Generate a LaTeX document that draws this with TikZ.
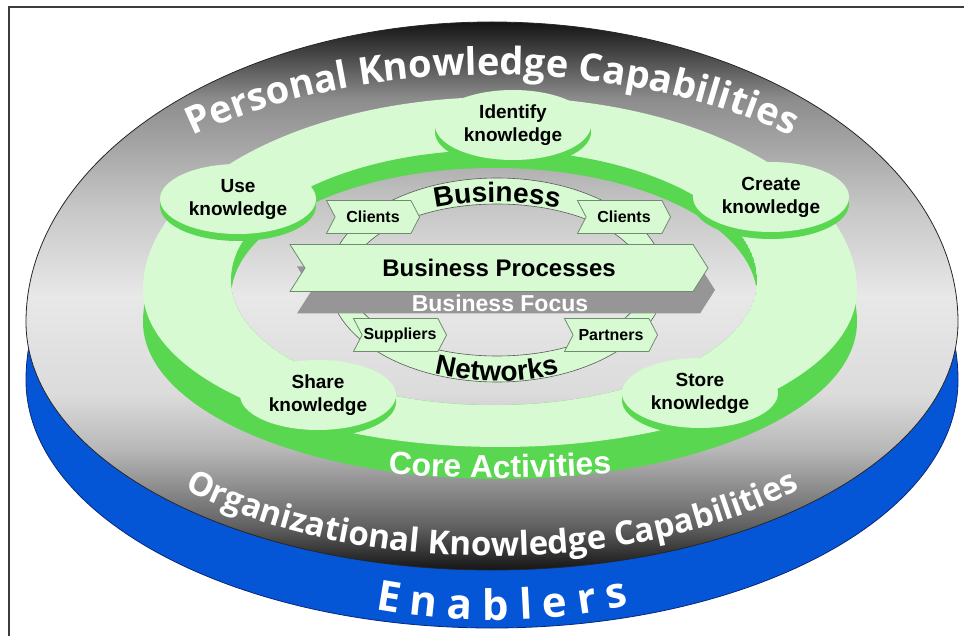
\documentclass[tikz,border=0pt]{standalone}
\usepackage{fontspec}
\newfontfamily\lblfont{Liberation Sans}
\newfontfamily\capfont{Open Sans}
\usetikzlibrary{shapes.geometric,shapes.symbols,shadows,decorations.text,calc}

\pgfdeclareverticalshading{discface}{100bp}{color(0bp)=(black!92); color(25bp)=(black!92); color(29bp)=(black!62); color(36bp)=(black!28); color(41bp)=(black!14); color(50bp)=(black!9); color(58bp)=(black!22); color(68bp)=(black!45); color(75bp)=(black!92); color(100bp)=(black!92)}

\begin{document}
\begin{tikzpicture}[x=1pt,y=-1pt,line cap=rect,
    bubble/.style={ellipse,fill=custcol_d7fad2,inner sep=0pt,minimum width=156pt,minimum height=70pt,align=center,
      font=\lblfont\bfseries\fontsize{19pt}{23pt}\selectfont,general shadow={fill=custcol_5ad750,shadow yshift=-7pt}},
    flag/.style={signal,signal from=west,signal to=east,signal pointer angle=125,draw=custcol_6e8c6e,line width=0.8pt,
      fill=custcol_d7fad2,inner sep=0pt,minimum width=93pt,minimum height=33pt,font=\lblfont\bfseries\fontsize{16pt}{16pt}\selectfont},
    ringtext/.style={decorate,decoration={text along path,text align=center,text color=white,text={#1}}}]
  \def\egg#1#2#3#4#5{(#1-#3,#2) arc[start angle=180,end angle=360,x radius=#3,y radius=#4] arc[start angle=0,end angle=180,x radius=#3,y radius=#5] -- cycle}
  \def\capbig{\capfont\bfseries\fontsize{38pt}{38pt}\selectfont}
  \def\caplow{\capfont\bfseries\fontsize{33pt}{33pt}\selectfont}
  \def\capbase{\capfont\bfseries\fontsize{42pt}{42pt}\selectfont}
  \def\corefont{\lblfont\bfseries\fontsize{32pt}{32pt}\selectfont}
  \def\hubfont{\lblfont\bfseries\fontsize{28pt}{28pt}\selectfont}
  \definecolor{custcol_d7fad2}{RGB}{215,250,210}
  \definecolor{custcol_5ad750}{RGB}{90,215,80}
  \definecolor{custcol_0555d7}{RGB}{5,85,215}
  \definecolor{custcol_0a2878}{RGB}{10,40,120}
  \definecolor{custcol_969696}{RGB}{150,150,150}
  \definecolor{custcol_6e8c6e}{RGB}{110,140,110}
  \definecolor{custcol_3c3c3c}{RGB}{60,60,60}
  \useasboundingbox (0,0) rectangle (964,636);
  \coordinate (disc) at (492,322);
  \coordinate (base) at (492,380);
  \coordinate (ring) at (500,290);
  \coordinate (hub) at (497,280);
  % disc: blue side, then shaded face
  \fill[custcol_0555d7,draw=custcol_0a2878,line width=0.8pt] \egg{492}{380}{466}{300}{248};
  \shade[shading=discface,draw=black!85,line width=0.8pt] \egg{492}{322}{466}{300}{248};
  % core activities ring with its inner wall
  \fill[custcol_5ad750] \egg{500}{322}{357}{193}{157};
  \fill[custcol_d7fad2] \egg{500}{290}{357}{193}{157};
  \begin{scope}
    \clip \egg{494}{280}{263}{130}{125};
    \fill[custcol_5ad750] \egg{494}{280}{263}{130}{125};
    \clip \egg{494}{298}{263}{130}{125};
    \shade[shading=discface] \egg{492}{322}{466}{300}{248};
  \end{scope}
  % lettering on the disc
  \path[ringtext={|\capbig|Personal Knowledge Capabilities}] ($(disc)+(215:455 and 247)$) arc[start angle=215,end angle=325,x radius=455,y radius=247];
  \path[ringtext={|\caplow|Organizational Knowledge Capabilities}] ($(disc)+(145:440 and 234)$) arc[start angle=145,end angle=35,x radius=440,y radius=234];
  \path[decorate,decoration={text along path,text align=fit to path,text color=white,text={|\capbase|Enablers}}] ($(base)+(107:400 and 240)$) arc[start angle=107,end angle=70,x radius=400,y radius=240];
  \path[ringtext={|\corefont|Core Activities}] ($(ring)+(110:500 and 188)$) arc[start angle=110,end angle=70,x radius=500,y radius=188];
  % knowledge activities
  \node[bubble] (identify) at (513,125) {Identify\\knowledge};
  \node[bubble] (use) at (238,199) {Use\\knowledge};
  \node[bubble] (create) at (771,197) {Create\\knowledge};
  \node[bubble] (share) at (318,395) {Share\\knowledge};
  \node[bubble] (store) at (700,393) {Store\\knowledge};
  % business / networks band
  \path[fill=custcol_d7fad2,draw=black!65,line width=0.6pt,even odd rule] (hub) ellipse[x radius=168,y radius=102] (hub) ellipse[x radius=148,y radius=76];
  \path[decorate,decoration={text along path,text align=center,text={|\hubfont|Business}}] ($(hub)+(225:160 and 78)$) arc[start angle=225,end angle=315,x radius=160,y radius=78];
  \path[decorate,decoration={text along path,text align=center,text={|\hubfont|Networks}}] ($(hub)+(140:165 and 101)$) arc[start angle=140,end angle=40,x radius=165,y radius=101];
  % partners around the processes
  \node[flag] (clientsw) at (373,217) {Clients};
  \node[flag] (clientse) at (624,217) {Clients};
  \node[flag] (suppliers) at (400,335) {Suppliers};
  \node[flag] (partners) at (611,335) {Partners};
  \node[flag,minimum width=418pt,minimum height=47pt,signal pointer angle=115,font=\lblfont\bfseries\fontsize{24pt}{24pt}\selectfont,
    general shadow={fill=custcol_969696,shadow xshift=7pt,shadow yshift=-22pt}] (proc) at (499,268) {Business Processes};
  \node[inner sep=0pt,text=white,font=\lblfont\bfseries\fontsize{23pt}{23pt}\selectfont] (focus) at ($(proc)+(1,35)$) {Business Focus};
  % frame
  \draw[custcol_3c3c3c,line width=1.6pt] (9,636) -- (9,7) -- (964,7);
\end{tikzpicture}
\end{document}
